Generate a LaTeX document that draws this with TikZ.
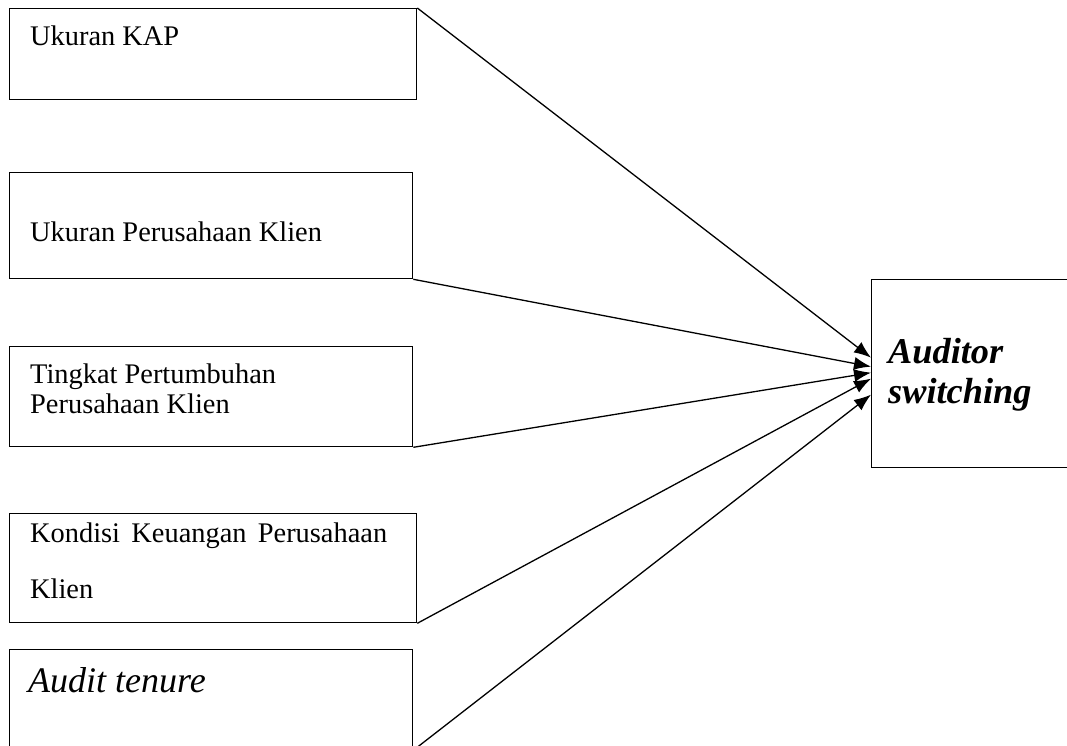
\documentclass[tikz,border=0pt]{standalone}
\usepackage{fontspec}
\setmainfont{Liberation Serif}
\usetikzlibrary{arrows.meta}

\begin{document}
\begin{tikzpicture}[x=1pt,y=-1pt]

\tikzstyle{bx} = [rectangle, draw=black, line width=1.3pt, inner sep=0pt, anchor=north west]
\tikzstyle{tx} = [inner sep=0pt, anchor=base west, font=\fontsize{28.4}{30}\selectfont]
\tikzstyle{ar} = [line width=1.3pt, -{Latex[length=17pt,width=13pt]}]

\useasboundingbox (0,0) rectangle (1067,745);

% left boxes
\node (kap) [bx, minimum width=407pt, minimum height=91pt] at (9,8) {};
\node (klien) [bx, minimum width=403pt, minimum height=106pt] at (9,172) {};
\node (tumbuh) [bx, minimum width=403pt, minimum height=100pt] at (9,346) {};
\node (kondisi) [bx, minimum width=407pt, minimum height=109pt] at (9,513) {};
\node (tenure) [bx, minimum width=403pt, minimum height=100pt] at (9,649) {};
% right box
\node (switch) [bx, minimum width=220pt, minimum height=188pt] at (871,279) {};

% texts
\node (kaptx) [tx] at (30,45) {Ukuran KAP};
\node (kliental) [tx] at (30,241) {Ukuran Perusahaan Klien};
\node (tumbuhtxa) [tx] at (30,383) {Tingkat Pertumbuhan};
\node (tumbuhtxb) [tx] at (30,413) {Perusahaan Klien};
\node (kondisitxa) [tx] at (30,542) {\makebox[357pt][s]{Kondisi Keuangan Perusahaan}};
\node (kondisitxb) [tx] at (30,598) {Klien};
\node (tenuretx) [tx, font=\fontsize{36}{40}\selectfont\itshape] at (28,692) {Audit tenure};
\node (switchtxa) [tx, font=\fontsize{36.3}{40}\selectfont\bfseries\itshape] at (888,363) {Auditor};
\node (switchtxb) [tx, font=\fontsize{36.3}{40}\selectfont\bfseries\itshape] at (888,403) {switching};

% arrows
\draw [ar] (kap.north east) -- ([yshift=16pt]switch.west);
\draw [ar] (klien.south east) -- ([yshift=7pt]switch.west);
\draw [ar] (tumbuh.south east) -- ([yshift=1pt]switch.west);
\draw [ar] (kondisi.south east) -- ([yshift=-5pt]switch.west);
\draw [ar] (tenure.south east) -- ([yshift=-21pt]switch.west);

\end{tikzpicture}
\end{document}
